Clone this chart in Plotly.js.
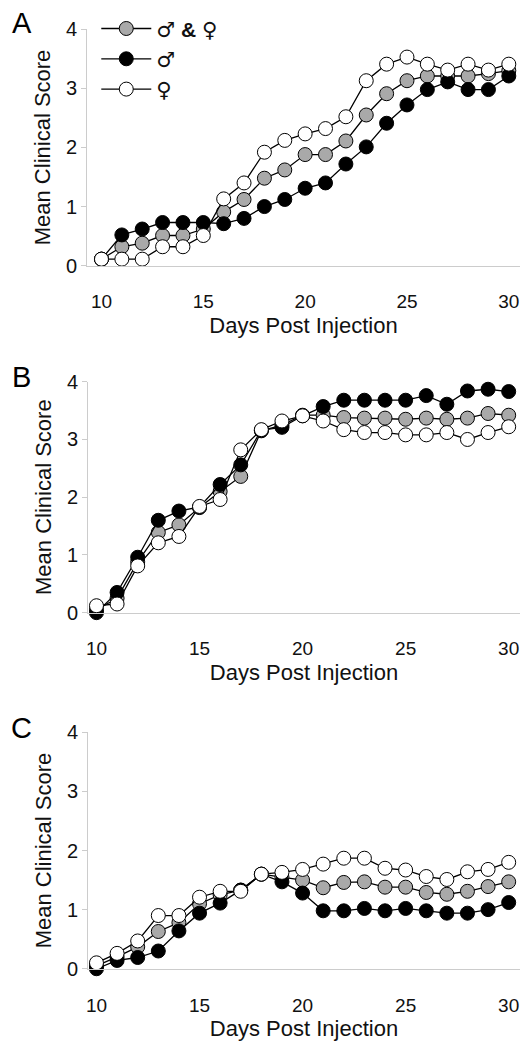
<!DOCTYPE html>
<html><head><meta charset="utf-8">
<script src="https://cdn.plot.ly/plotly-3.0.1.min.js"></script>
<style>html,body{margin:0;padding:0;background:#fff}</style>
</head><body>
<div id="chart" style="width:529px;height:1043px"></div>
<script>
var days = [10,11,12,13,14,15,16,17,18,19,20,21,22,23,24,25,26,27,28,29,30];
var SYM = function(c){ return '<span style="font-family:DejaVu Sans;font-size:21px">' + c + '</span>'; };
var seriesNames = [SYM('\u2642') + ' <b>&</b> ' + SYM('\u2640'), SYM('\u2642'), SYM('\u2640')];
var tickDays = [10,15,20,25,30];
var tickScores = [0,1,2,3,4];

// Panel A
var aBoth   = [0.11,0.32,0.38,0.51,0.51,0.62,0.91,1.12,1.48,1.62,1.88,1.88,2.11,2.55,2.91,3.13,3.21,3.21,3.21,3.25,3.30];
var aMale   = [0.11,0.52,0.62,0.73,0.73,0.73,0.71,0.80,1.00,1.12,1.31,1.40,1.72,2.01,2.41,2.72,2.98,3.11,2.98,2.98,3.21];
var aFemale = [0.11,0.11,0.11,0.32,0.32,0.51,1.13,1.40,1.92,2.12,2.23,2.32,2.52,3.13,3.41,3.53,3.41,3.31,3.41,3.31,3.41];
// Panel B
var bBoth   = [0.05,0.25,0.88,1.39,1.52,1.82,2.10,2.36,3.15,3.25,3.42,3.42,3.38,3.37,3.37,3.35,3.37,3.35,3.37,3.45,3.42];
var bMale   = [0.00,0.35,0.96,1.60,1.76,1.83,2.22,2.56,3.16,3.21,3.41,3.57,3.68,3.68,3.68,3.68,3.76,3.61,3.84,3.87,3.83];
var bFemale = [0.12,0.15,0.81,1.21,1.32,1.84,1.96,2.82,3.17,3.32,3.41,3.32,3.17,3.12,3.12,3.08,3.08,3.12,3.00,3.12,3.22];
// Panel C
var cBoth   = [0.05,0.20,0.37,0.63,0.78,1.10,1.25,1.33,1.60,1.55,1.50,1.37,1.46,1.47,1.38,1.38,1.29,1.26,1.31,1.39,1.47];
var cMale   = [0.00,0.14,0.19,0.30,0.64,0.94,1.11,1.33,1.60,1.47,1.28,0.98,0.98,1.02,0.98,1.02,0.98,0.94,0.94,1.00,1.12];
var cFemale = [0.10,0.26,0.47,0.90,0.90,1.21,1.31,1.31,1.60,1.63,1.68,1.77,1.87,1.87,1.70,1.67,1.56,1.51,1.64,1.68,1.80];

var fills = ['#a9a9a9', '#000000', '#ffffff'];
var panels = [
  {data:[aBoth,aMale,aFemale], xa:'x', ya:'y'},
  {data:[bBoth,bMale,bFemale], xa:'x2', ya:'y2'},
  {data:[cBoth,cMale,cFemale], xa:'x3', ya:'y3'}
];
var traces = [];
panels.forEach(function(p, pi){
  p.data.forEach(function(vals, si){
    traces.push({
      type:'scatter', mode:'lines+markers', x:days, y:vals,
      xaxis:p.xa, yaxis:p.ya, name:seriesNames[si],
      showlegend: pi===0, cliponaxis:false,
      line:{color:'#000', width:1.3},
      marker:{size:14, color:fills[si], line:{color:'#000', width:1}}
    });
  });
});

var FONT = 'Liberation Sans, Arial, sans-serif';
function xax(dom, r0){
  return {domain:dom, range:[r0,30.55], tickvals:tickDays, ticktext:tickDays.map(String),
    showgrid:false, zeroline:false, showline:true, linecolor:'#cccccc', linewidth:1,
    ticks:'', ticklabelstandoff:19, tickfont:{family:FONT,size:19,color:'#111'},
    title:{text:'Days Post Injection', font:{family:FONT,size:22,color:'#111'}, standoff:6},
    fixedrange:true};
}
function yax(dom, anchor){
  return {domain:dom, range:[0,4], tickvals:tickScores, ticktext:tickScores.map(String),
    showgrid:false, zeroline:false, showline:true, linecolor:'#cccccc', linewidth:1,
    ticks:'outside', ticklen:5, tickcolor:'#cccccc', tickfont:{family:FONT,size:20,color:'#111'},
    title:{text:'Mean Clinical Score', font:{family:FONT,size:22,color:'#111'}, standoff:9},
    anchor:anchor, fixedrange:true};
}
var layout = {
  width:529, height:1043, margin:{l:0,r:0,t:0,b:0}, paper_bgcolor:'#fff', plot_bgcolor:'#fff',
  showlegend:true,
  legend:{x:0.182, y:0.992, xanchor:'left', yanchor:'top', bgcolor:'rgba(0,0,0,0)',
    font:{family:FONT, size:21, color:'#111'}, itemwidth:50, tracegroupgap:0},
  xaxis: xax([0.1645,0.983], 9.29), yaxis: yax([0.7453,0.9719],'x'),
  xaxis2: Object.assign(xax([0.1664,0.983], 9.59), {anchor:'y2'}), yaxis2: yax([0.4126,0.6340],'x2'),
  xaxis3: Object.assign(xax([0.1664,0.983], 9.59), {anchor:'y3'}), yaxis3: yax([0.0712,0.2979],'x3'),
  annotations:[
    {text:'A', x:22/529, y:1-23/1043},
    {text:'B', x:21/529, y:1-377/1043},
    {text:'C', x:21/529, y:1-728/1043}
  ].map(function(a){ return Object.assign(a,{xref:'paper',yref:'paper',showarrow:false,
    xanchor:'center',yanchor:'middle',font:{family:FONT,size:29,color:'#000'}}); })
};
Plotly.newPlot('chart', traces, layout, {displayModeBar:false, staticPlot:true});
</script>
</body></html>
